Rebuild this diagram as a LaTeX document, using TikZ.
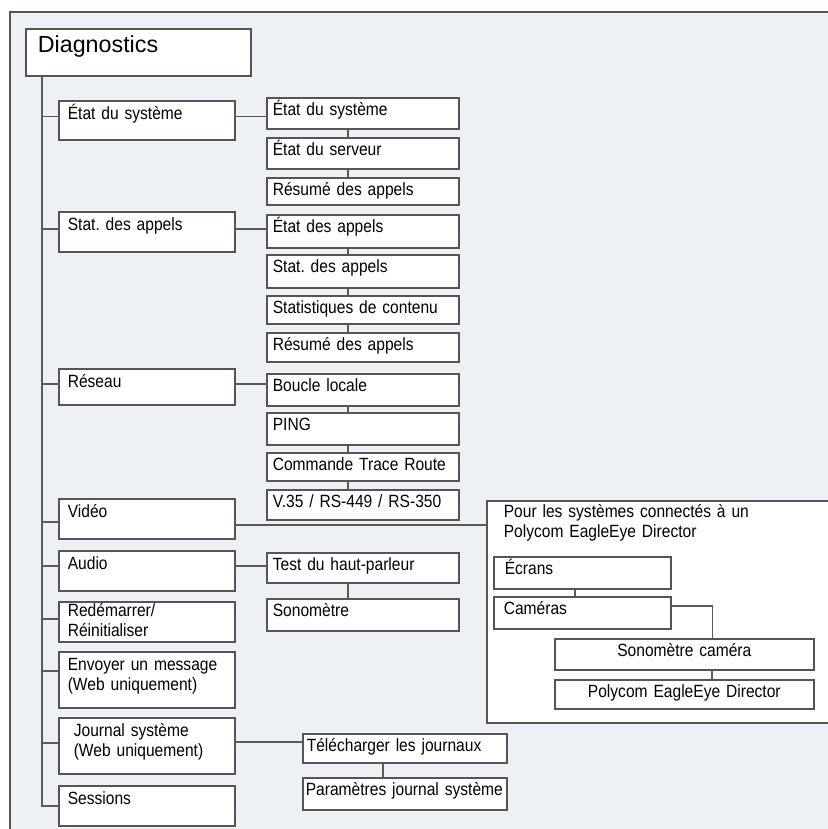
\documentclass[tikz,border=0pt]{standalone}
\usepackage{fontspec}
\setmainfont{Liberation Sans}[FakeStretch=0.88]
\newfontfamily\titlefont{Liberation Sans}
\usepackage{xcolor}
\usepackage{tikz}
\frenchspacing
\definecolor{paper}{HTML}{EDF0F5}
\definecolor{edge}{HTML}{555555}
\definecolor{wirec}{HTML}{5A5A5A}
\tikzset{
  frame/.style={draw=edge, line width=1.5pt},
  boxbase/.style={
    draw=edge, line width=1.6pt, fill=white, anchor=north west,
    align=left, text height=13pt, inner ysep=5pt,
    font=\fontsize{17.7}{19.5}\selectfont},
  diagbox/.style={boxbase, font=\titlefont\fontsize{23.3}{27}\selectfont,
    text height=17pt, inner xsep=12pt, inner ysep=7pt, text width=201pt},
  lvlone/.style={boxbase, inner xsep=9pt, inner ysep=6pt, text width=158pt},
  lvltwo/.style={boxbase, inner xsep=6pt, text width=180pt},
  logbox/.style={boxbase, inner xsep=4pt, text width=196pt},
  groupbox/.style={boxbase, inner xsep=17pt, inner ysep=4pt, text width=350pt},
  camsbox/.style={boxbase, inner xsep=11pt, text width=155pt},
  dirbox/.style={boxbase, align=center, inner xsep=6pt, text width=247pt},
  wire/.style={draw=wirec, line width=1.4pt},
}

\begin{document}
\begin{tikzpicture}[x=1pt, y=-1pt]
  \useasboundingbox (0,0) rectangle (827,829);

  % page frame
  \fill[paper] (10,12) rectangle (860,860);
  \draw[frame] (10,860) -- (10,12) -- (860,12);

  \node[diagbox, text depth=16pt] (diag) at (25,28) {Diagnostics};

  % first level
  \node[lvlone, text depth=14pt] (sys) at (58,100) {État du système};
  \node[lvlone, text depth=15pt] (calls) at (58,211) {Stat. des appels};
  \node[lvlone, text depth=11pt] (net) at (58,368) {Réseau};
  \node[lvlone, text depth=15pt] (video) at (58,498) {Vidéo};
  \node[lvlone, text depth=15pt] (audio) at (58,550) {Audio};
  \node[lvlone, text height=9pt, text depth=19pt] (reboot) at (58,601)
    {Redémarrer/\\Réinitialiser};
  \node[lvlone, text depth=31pt] (msg) at (58,651)
    {Envoyer un message\\(Web uniquement)};
  \node[lvlone, text depth=31pt] (log) at (58,717)
    {\hspace*{6pt}Journal système\\\hspace*{6pt}(Web uniquement)};
  \node[lvlone, text depth=15pt] (sess) at (58,785) {Sessions};

  % second level
  \node[lvltwo, text depth=8pt] (st1) at (266,97) {État du système};
  \node[lvltwo, text depth=8pt] (st2) at (266,137) {État du serveur};
  \node[lvltwo, text depth=4pt] (st3) at (266,177) {Résumé des appels};
  \node[lvltwo, text depth=10pt] (ca1) at (266,214) {État des appels};
  \node[lvltwo, text depth=10pt] (ca2) at (266,254) {Stat. des appels};
  \node[lvltwo, text depth=5pt] (ca3) at (266,295) {Statistiques de contenu};
  \node[lvltwo, text depth=6pt] (ca4) at (266,332) {Résumé des appels};
  \node[lvltwo, text depth=9pt] (ne1) at (266,373) {Boucle locale};
  \node[lvltwo, text depth=9pt] (ne2) at (266,412) {PING};
  \node[lvltwo, text depth=5pt] (ne3) at (266,452) {Commande Trace Route};
  \node[lvltwo, text depth=7pt] (ne4) at (266,489) {V.35 / RS-449 / RS-350};
  \node[lvltwo, text depth=7pt] (au1) at (266,552) {Test du haut-parleur};
  \node[lvltwo, text depth=9pt] (au2) at (266,598) {Sonomètre};
  \node[logbox, text depth=6pt] (lg1) at (302,733) {Télécharger les journaux};
  \node[logbox, inner xsep=3pt, text width=198pt, text depth=9pt] (lg2) at (302,777)
    {\mbox{Paramètres journal système}};

  % EagleEye Director group
  \node[groupbox, text depth=201pt] (group) at (486,500)
    {Pour les systèmes connectés à un\\Polycom EagleEye Director};
  \node[camsbox, text depth=9pt] (ecr) at (493,556) {Écrans};
  \node[camsbox, inner xsep=10pt, text width=157pt, text depth=9pt] (cam) at (493,596) {Caméras};
  \node[dirbox, text depth=8pt] (son) at (554,638) {Sonomètre caméra};
  \node[dirbox, text depth=6pt] (pol) at (554,679) {Polycom EagleEye Director};

  % trunk and branches
  \coordinate (trunk) at ([xshift=17pt]diag.south west);
  \draw[wire] (trunk) |- (sess.west);
  \draw[wire] ([yshift=3.5pt]sys.west) -| (trunk);
  \draw[wire] ([yshift=3pt]calls.west) -| (trunk);
  \draw[wire] ([yshift=3pt]net.west) -| (trunk);
  \draw[wire] ([yshift=-3pt]video.west) -| (trunk);
  \draw[wire] ([yshift=5pt]audio.west) -| (trunk);
  \draw[wire] ([yshift=3pt]reboot.west) -| (trunk);
  \draw[wire] ([yshift=9pt]msg.west) -| (trunk);
  \draw[wire] ([yshift=3pt]log.west) -| (trunk);

  % first to second level
  \draw[wire] ([yshift=-3.5pt]st1.west) -| (sys.east);
  \draw[wire] ([yshift=2.5pt]ca1.west) -| (calls.east);
  \draw[wire] ([yshift=6pt]ne1.west) -| (net.east);
  \draw[wire] ([yshift=2pt]au1.west) -| (audio.east);
  \draw[wire] ([yshift=6.5pt]lg1.west) -| (log.east);
  \draw[wire] ([yshift=87pt]group.west) -| (video.east);

  % chains
  \draw[wire] ([xshift=-15pt]st1.south) -- ([xshift=-15pt]st2.north);
  \draw[wire] ([xshift=-15pt]st2.south) -- ([xshift=-15pt]st3.north);
  \draw[wire] ([xshift=-15pt]ca1.south) -- ([xshift=-15pt]ca2.north);
  \draw[wire] ([xshift=-15pt]ca2.south) -- ([xshift=-15pt]ca3.north);
  \draw[wire] ([xshift=-15pt]ca3.south) -- ([xshift=-15pt]ca4.north);
  \draw[wire] ([xshift=-15pt]ne1.south) -- ([xshift=-15pt]ne2.north);
  \draw[wire] ([xshift=-15pt]ne2.south) -- ([xshift=-15pt]ne3.north);
  \draw[wire] ([xshift=-15pt]ne3.south) -- ([xshift=-15pt]ne4.north);
  \draw[wire] ([xshift=-15pt]au1.south) -- ([xshift=-15pt]au2.north);
  \draw[wire] ([xshift=-22pt]lg1.south) -- ([xshift=-22pt]lg2.north);
  \draw[wire] ([xshift=-7.5pt]ecr.south) -- ([xshift=-7.5pt]cam.north);
  \draw[wire] ([yshift=7pt]cam.east) -| ([xshift=28pt]son.north);
  \draw[wire] ([xshift=27.5pt]son.south) -- ([xshift=27.5pt]pol.north);

\end{tikzpicture}
\end{document}
